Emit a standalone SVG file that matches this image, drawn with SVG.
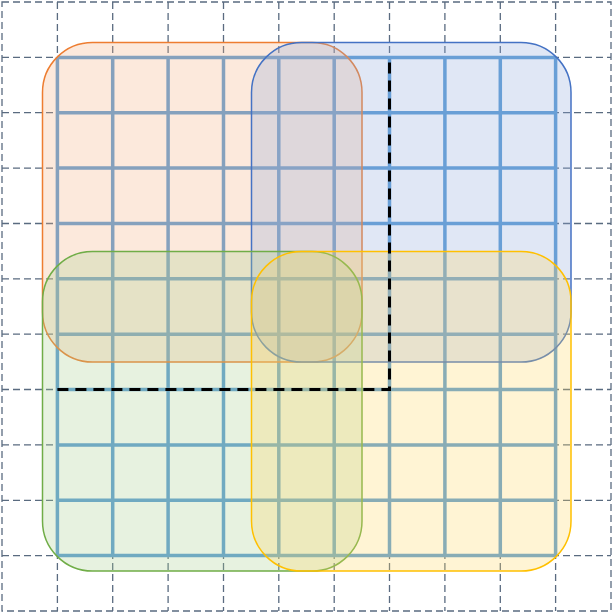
<svg xmlns="http://www.w3.org/2000/svg" width="613" height="612" viewBox="0 0 613 612">
<style>
.dg{stroke:#5a6b80;stroke-width:1.3;stroke-dasharray:7,4;fill:none}
.bg{stroke:#5b9bd5;stroke-width:3.5;fill:none}
.r{stroke-width:1.5;fill-opacity:0.28}
</style>
<rect width="613" height="612" fill="#ffffff"/>
<g id="dashed-grid" class="dg">
<rect x="2" y="2" width="609" height="609"/>
<path d="M57.4 2V611M112.7 2V611M168.1 2V611M223.5 2V611M278.8 2V611M334.2 2V611M389.5 2V611M444.9 2V611M500.3 2V611M555.6 2V611"/>
<path d="M2 57.4H611M2 112.7H611M2 168.1H611M2 223.5H611M2 278.8H611M2 334.2H611M2 389.5H611M2 444.9H611M2 500.3H611M2 555.6H611"/>
</g>
<g id="blue-grid" class="bg">
<path d="M57.4 57.4V555.6M112.7 57.4V555.6M168.1 57.4V555.6M223.5 57.4V555.6M278.8 57.4V555.6M334.2 57.4V555.6M389.5 57.4V555.6M444.9 57.4V555.6M500.3 57.4V555.6M555.6 57.4V555.6"/>
<path d="M57.4 57.4H555.6M57.4 112.7H555.6M57.4 168.1H555.6M57.4 223.5H555.6M57.4 278.8H555.6M57.4 334.2H555.6M57.4 389.5H555.6M57.4 444.9H555.6M57.4 500.3H555.6M57.4 555.6H555.6"/>
</g>
<g id="orange">
<rect class="r" x="42.5" y="42.5" width="319.5" height="319.5" rx="50" fill="#f4b183" stroke="#ed7d31"/>
</g>
<g id="blue">
<rect class="r" x="251.5" y="42.5" width="319.5" height="319.5" rx="50" fill="#8faadc" stroke="#4472c4"/>
</g>
<g id="green">
<rect class="r" x="42.5" y="251.5" width="319.5" height="319.5" rx="50" fill="#a9d18e" stroke="#70ad47"/>
</g>
<g id="yellow">
<rect class="r" x="251.5" y="251.5" width="319.5" height="319.5" rx="50" fill="#ffd966" stroke="#ffc000"/>
</g>
<g id="connectors">
<path d="M57.4 389.5H389.5V57.4" fill="none" stroke="#000000" stroke-width="3" stroke-dasharray="11,7"/>
</g>
</svg>
